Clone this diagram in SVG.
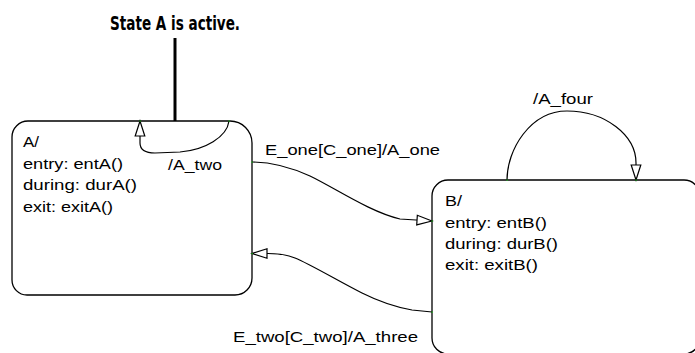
<svg xmlns="http://www.w3.org/2000/svg" width="695" height="353" viewBox="0 0 695 353">
<style>
.box{fill:#fff;stroke:#000;stroke-width:1.3}
.t{font-family:"Liberation Sans",Arial,sans-serif;font-size:14px;fill:#000}
.title{font-family:"Liberation Sans Narrow","DejaVu Sans Condensed","Liberation Sans",sans-serif;font-size:19px;font-weight:bold;fill:#000}
.c{fill:none;stroke:#000;stroke-width:1.2}
.dot{fill:#1c1}
</style>
<defs>
<marker id="ah" markerUnits="userSpaceOnUse" markerWidth="20" markerHeight="14" viewBox="-17 -7 19 14" refX="0" refY="0" orient="auto">
<path d="M0,0 L-15,-4.8 L-15,4.8 Z" fill="#fff" stroke="#000" stroke-width="1.2"/>
</marker>
</defs>
<rect width="695" height="353" fill="#fff"/>

<g id="annotation">
<text class="title" x="110" y="29.5" textLength="130" lengthAdjust="spacingAndGlyphs">State A is active.</text>
<line x1="175" y1="38" x2="175" y2="135" stroke="#000" stroke-width="3"/>
</g>

<g id="stateA">
<path class="box" d="M28,121 H230 A22,22 0 0 1 252,143 V278 A17,17 0 0 1 235,295 H27 A15,15 0 0 1 12,280 V137 A16,16 0 0 1 28,121 Z"/>
<text class="t" x="23" y="147" textLength="16" lengthAdjust="spacingAndGlyphs">A/</text>
<text class="t" x="23" y="168.5" textLength="100" lengthAdjust="spacingAndGlyphs">entry: entA()</text>
<text class="t" x="23" y="190" textLength="114" lengthAdjust="spacingAndGlyphs">during: durA()</text>
<text class="t" x="23" y="211.5" textLength="90" lengthAdjust="spacingAndGlyphs">exit: exitA()</text>
</g>

<g id="stateB">
<path class="box" d="M448,180 H684 A16,16 0 0 1 700,196 V338 A16,16 0 0 1 684,354 H448 A16,16 0 0 1 432,338 V196 A16,16 0 0 1 448,180 Z"/>
<text class="t" x="445" y="206" textLength="17" lengthAdjust="spacingAndGlyphs">B/</text>
<text class="t" x="445" y="228" textLength="102" lengthAdjust="spacingAndGlyphs">entry: entB()</text>
<text class="t" x="445" y="249" textLength="113" lengthAdjust="spacingAndGlyphs">during: durB()</text>
<text class="t" x="445" y="270" textLength="93" lengthAdjust="spacingAndGlyphs">exit: exitB()</text>
</g>

<g id="connectors">
<path class="c" marker-end="url(#ah)" d="M229,121 C227,137 205,150 180,152 L155,153 C145,153 140,149 140,143 L140,121"/>
<path class="c" marker-end="url(#ah)" d="M252,162 C270,162 290,167 310,176 C335,188 370,212 400,219 L432,221"/>
<path class="c" marker-end="url(#ah)" d="M432,312 L412,310 C395,307 380,302 362,293 C340,282 310,264 295,258 C285,254 276,253.5 268,253.5 L252,253.5"/>
<path class="c" marker-end="url(#ah)" d="M507,180 C507,150 530,111 567,111 C605,111 636,135 636,163 L636,180"/>
<text class="t" x="168" y="170" textLength="54" lengthAdjust="spacingAndGlyphs">/A_two</text>
<text class="t" x="265" y="155" textLength="175" lengthAdjust="spacingAndGlyphs">E_one[C_one]/A_one</text>
<text class="t" x="533" y="103.5" textLength="60" lengthAdjust="spacingAndGlyphs">/A_four</text>
<text class="t" x="233" y="341.5" textLength="185" lengthAdjust="spacingAndGlyphs">E_two[C_two]/A_three</text>
<rect class="dot" x="228.5" y="120.5" width="1.2" height="1.2"/>
<rect class="dot" x="139.5" y="120.5" width="1.2" height="1.2"/>
<rect class="dot" x="251.5" y="161.5" width="1.2" height="1.2"/>
<rect class="dot" x="431.5" y="220.5" width="1.2" height="1.2"/>
<rect class="dot" x="431.5" y="311.5" width="1.2" height="1.2"/>
<rect class="dot" x="251.5" y="253" width="1.2" height="1.2"/>
<rect class="dot" x="506.5" y="179.5" width="1.2" height="1.2"/>
<rect class="dot" x="635.5" y="179.5" width="1.2" height="1.2"/>
</g>
</svg>
